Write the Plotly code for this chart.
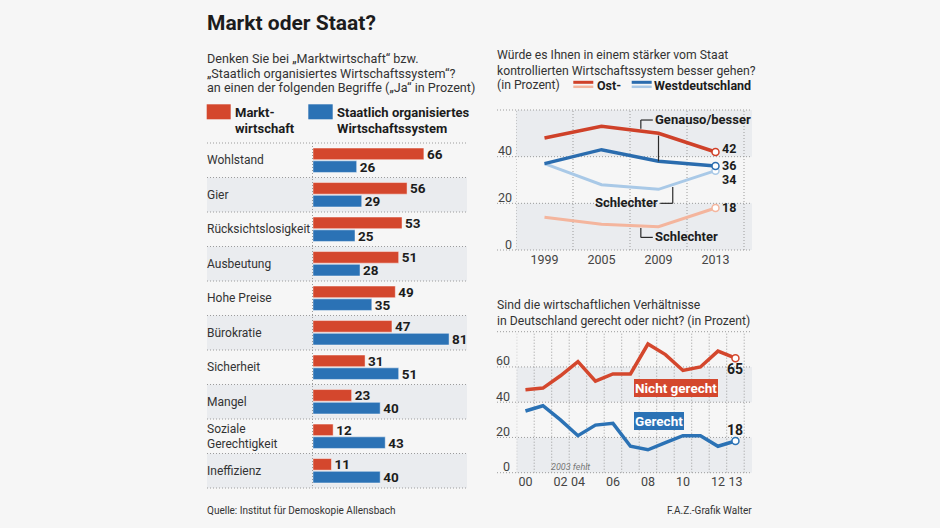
import plotly.graph_objects as go

# ---------------- data ----------------
begriffe = ["Wohlstand", "Gier", "Rücksichtslosigkeit", "Ausbeutung", "Hohe Preise",
            "Bürokratie", "Sicherheit", "Mangel", "Soziale Gerechtigkeit", "Ineffizienz"]
begriffe_text = ["Wohlstand", "Gier", "Rücksichtslosigkeit", "Ausbeutung", "Hohe Preise",
                 "Bürokratie", "Sicherheit", "Mangel", "Soziale|Gerechtigkeit", "Ineffizienz"]
markt = [66, 56, 53, 51, 49, 47, 31, 23, 12, 11]
staat = [26, 29, 25, 28, 35, 81, 51, 40, 43, 40]

jahre_a = ["1999", "2005", "2009", "2013"]
ost_besser = [48, 53, 50, 42]
ost_schlechter = [14, 11, 10, 18]
west_besser = [37, 43, 38, 36]
west_schlechter = [37, 28, 26, 34]
ticks_a = [0, 20, 40]

jahre_b = ["2000", "2001", "2002", "2004", "2005", "2006", "2007",
           "2008", "2009", "2010", "2011", "2012", "2013"]
jahre_b_ticks = ["00", "", "02", "04", "", "06", "", "08", "", "10", "", "12", "13"]
nicht_gerecht = [47, 48, 55, 63, 52, 56, 56, 73, 67, 58, 60, 69, 65]
gerecht = [35, 38, 30, 21, 27, 28, 15, 13, 17, 21, 21, 15, 18]
ticks_b = [0, 20, 40, 60]

# ---------------- style ----------------
W, H = 940, 528
FONT = "Roboto, Lato, Liberation Sans, sans-serif"
BG = "#f6f6f6"
BAND = "#eaecef"
RED = "#d4472d"
BLUE = "#2b72b5"
RED_L = "#f4b59d"
BLUE_L = "#a9c9e7"
RED_D = "#cf4129"
BLUE_D = "#2a6cae"
GRID = "#9c9c9c"
DOT = "1px,2px"
TXT = "#333333"
DARK = "#1c1c1c"
SUB = 12.6


def px(x):
    return x / W


def py(y):
    return 1 - y / H


shapes = []
annotations = []


def text(x, y, s, size=SUB, color=TXT, xanchor="left", bold=False, italic=False):
    if bold:
        s = "<b>" + s + "</b>"
    if italic:
        s = "<i>" + s + "</i>"
    annotations.append(dict(xref="paper", yref="paper", x=px(x), y=py(y), text=s,
                            showarrow=False, xanchor=xanchor, yanchor="middle",
                            borderpad=0, borderwidth=0,
                            font=dict(family=FONT, size=size, color=color)))


def pline(x0, y0, x1, y1, color=GRID, width=1, dash=DOT):
    shapes.append(dict(type="line", xref="paper", yref="paper", x0=px(x0), x1=px(x1),
                       y0=py(y0), y1=py(y1), layer="below",
                       line=dict(color=color, width=width, dash=dash)))


def prect(x0, y0, x1, y1, color):
    shapes.append(dict(type="rect", xref="paper", yref="paper", x0=px(x0), x1=px(x1),
                       y0=py(y1), y1=py(y0), layer="below", fillcolor=color,
                       line=dict(width=0)))


# ---------------- headings ----------------
text(206.5, 23, "Markt oder Staat?", size=21, color=DARK, bold=True)
text(206.5, 59, "Denken Sie bei „Marktwirtschaft“ bzw.")
text(206.5, 73.5, "„Staatlich organisiertes Wirtschaftssystem“?")
text(206.5, 88, "an einen der folgenden Begriffe („Ja“ in Prozent)")
prect(206.7, 104.3, 230.7, 119.3, RED)
prect(308.3, 104.3, 332.7, 119.3, BLUE)
text(235, 112.5, "Markt-", size=13, color=DARK, bold=True)
text(235, 128, "wirtschaft", size=13, color=DARK, bold=True)
text(336.5, 112.5, "Staatlich organisiertes", size=13, color=DARK, bold=True)
text(336.5, 128, "Wirtschaftssystem", size=13, color=DARK, bold=True)

# ---------------- bar chart ----------------
BX0, BX1, BY0, BY1, LX = 313, 467, 143, 488, 207
n = len(begriffe)
ROW = (BY1 - BY0) / n
for i in range(n):
    if i % 2 == 1:
        prect(LX, BY0 + i * ROW, BX1, BY0 + (i + 1) * ROW, BAND)
for i in range(n + 1):
    pline(LX, BY0 + i * ROW, BX1, BY0 + i * ROW)
pline(BX0 - 0.5, BY0, BX0 - 0.5, BY1)
for i, lab in enumerate(begriffe_text):
    yc = BY0 + (i + 0.5) * ROW
    parts = lab.split("|")
    if len(parts) == 1:
        text(LX, yc, lab, size=12)
    else:
        text(LX, yc - 7.5, parts[0], size=12)
        text(LX, yc + 7.5, parts[1], size=12)

fig = go.Figure()
bar_common = dict(orientation="h", xaxis="x", yaxis="y", textposition="outside",
                  cliponaxis=False, constraintext="none", texttemplate="<b>%{x}</b>",
                  textfont=dict(family=FONT, size=13.5, color=DARK), hoverinfo="skip")
fig.add_trace(go.Bar(y=begriffe, x=markt, name="Marktwirtschaft",
                     marker=dict(color=RED, line=dict(color="rgba(255,255,255,0.45)", width=1)),
                     **bar_common))
fig.add_trace(go.Bar(y=begriffe, x=staat, name="Staatlich organisiertes Wirtschaftssystem",
                     marker=dict(color=BLUE, line=dict(color="rgba(255,255,255,0.45)", width=1)),
                     **bar_common))

# ---------------- top right chart ----------------
TX0, TX1, TYB, TYT, TVMAX = 516, 752, 250, 110, 60


def tpix(v):
    return TYB - v / TVMAX * (TYB - TYT)


text(496.5, 55.5, "Würde es Ihnen in einem stärker vom Staat", size=12.2)
text(496.5, 71, "kontrollierten Wirtschaftssystem besser gehen?", size=12.2)
text(496.5, 85.5, "(in Prozent)", size=12.2)
pline(573.3, 82.3, 593.3, 82.3, color=RED_D, width=3, dash="solid")
pline(573.3, 86.8, 593.3, 86.8, color=RED_L, width=2.5, dash="solid")
text(596.5, 85, "Ost-", size=12.5, color=DARK, bold=True)
pline(631.7, 82.3, 651.7, 82.3, color=BLUE_D, width=3, dash="solid")
pline(631.7, 86.8, 651.7, 86.8, color=BLUE_L, width=2.5, dash="solid")
text(654, 85, "Westdeutschland", size=12.5, color=DARK, bold=True)

prect(TX0, tpix(20), TX1, tpix(0), BAND)
prect(TX0, tpix(60), TX1, tpix(40), BAND)
for v in [0, 20, 40, 60]:
    pline(497, tpix(v), TX1, tpix(v))
for v in ticks_a:
    text(512, tpix(v) - 6, str(v), size=12.5, color="#444444", xanchor="right")
for i in range(len(jahre_a) + 1):
    shapes.append(dict(type="line", xref="x2", yref="y2", x0=i - 0.5, x1=i - 0.5, y0=0, y1=TVMAX,
                       layer="below", line=dict(color=GRID, width=1, dash=DOT)))


def add_line(x, y, color, width, xa, ya):
    fig.add_trace(go.Scatter(x=x, y=y, mode="lines", xaxis=xa, yaxis=ya, hoverinfo="skip",
                             line=dict(color=color, width=width)))


def add_end(x, y, color, xa, ya):
    fig.add_trace(go.Scatter(x=[x[-1]], y=[y[-1]], mode="markers", xaxis=xa, yaxis=ya,
                             hoverinfo="skip", cliponaxis=False,
                             marker=dict(size=7, color="white", line=dict(color=color, width=1.5))))


add_line(jahre_a, ost_schlechter, RED_L, 3, "x2", "y2")
add_line(jahre_a, west_schlechter, BLUE_L, 3, "x2", "y2")
add_line(jahre_a, ost_besser, RED_D, 3.5, "x2", "y2")
add_line(jahre_a, west_besser, BLUE_D, 3.5, "x2", "y2")
add_end(jahre_a, ost_schlechter, RED_L, "x2", "y2")
add_end(jahre_a, west_schlechter, BLUE_L, "x2", "y2")
add_end(jahre_a, ost_besser, RED_D, "x2", "y2")
add_end(jahre_a, west_besser, BLUE_D, "x2", "y2")

last_a = len(jahre_a) - 1
for vals, shift in [(ost_besser, 4), (west_besser, 1), (west_schlechter, -9), (ost_schlechter, 1)]:
    annotations.append(dict(xref="x2", yref="y2", x=last_a, y=vals[-1], xshift=6, yshift=shift,
                            text="<b>%d</b>" % vals[-1], showarrow=False, xanchor="left",
                            yanchor="middle", borderpad=0, borderwidth=0,
                            font=dict(family=FONT, size=12.5, color=DARK)))


def seg(x0, y0, x1, y1, xa="x2", ya="y2"):
    shapes.append(dict(type="line", xref=xa, yref=ya, x0=x0, x1=x1, y0=y0, y1=y1,
                       layer="above", line=dict(color="#2b2b2b", width=1.2)))


def dlabel(x, y, s, xanchor="left", xa="x2", ya="y2"):
    annotations.append(dict(xref=xa, yref=ya, x=x, y=y, text="<b>" + s + "</b>", showarrow=False,
                            xanchor=xanchor, yanchor="middle", borderpad=0, borderwidth=0,
                            font=dict(family=FONT, size=13, color=DARK)))


# Genauso/besser bracket
seg(1.69, 55.7, 1.90, 55.7)
seg(1.69, 55.7, 1.69, 52.0)
seg(2, ost_besser[2] - 1, 2, west_besser[2])
dlabel(1.94, 55.9, "Genauso/besser")
# Schlechter (West)
seg(2.03, 20, 2.25, 20)
seg(2.25, 20, 2.25, 27)
dlabel(1.99, 20.2, "Schlechter", xanchor="right")
# Schlechter (Ost)
seg(1.69, 9.4, 1.69, 5.4)
seg(1.69, 5.4, 1.90, 5.4)
dlabel(1.94, 5.6, "Schlechter")

# ---------------- bottom right chart ----------------
UX0, UX1, UYB, UYT, UVMAX = 516.7, 752, 472.7, 331.7, 80


def upix(v):
    return UYB - v / UVMAX * (UYB - UYT)


text(496.5, 305, "Sind die wirtschaftlichen Verhältnisse", size=12.2)
text(496.5, 320.7, "in Deutschland gerecht oder nicht? (in Prozent)", size=12.2)

prect(UX0, upix(20), UX1, upix(0), BAND)
prect(UX0, upix(60), UX1, upix(40), BAND)
for v in [0, 20, 40, 60, 80]:
    pline(497, upix(v), UX1, upix(v))
for v in ticks_b:
    text(510, upix(v) - 6, str(v), size=12.5, color="#444444", xanchor="right")
for i in range(len(jahre_b) + 1):
    shapes.append(dict(type="line", xref="x3", yref="y3", x0=i - 0.5, x1=i - 0.5, y0=0, y1=UVMAX,
                       layer="below", line=dict(color=GRID, width=1, dash=DOT)))

add_line(jahre_b, nicht_gerecht, RED, 3.5, "x3", "y3")
add_line(jahre_b, gerecht, BLUE, 3.5, "x3", "y3")
add_end(jahre_b, nicht_gerecht, RED, "x3", "y3")
add_end(jahre_b, gerecht, BLUE, "x3", "y3")

last_b = len(jahre_b) - 1
annotations.append(dict(xref="x3", yref="y3", x=last_b, y=nicht_gerecht[-1], yshift=-11,
                        text="<b>%d</b>" % nicht_gerecht[-1], showarrow=False, xanchor="center",
                        yanchor="middle", font=dict(family=FONT, size=14, color=DARK)))
annotations.append(dict(xref="x3", yref="y3", x=last_b, y=gerecht[-1], yshift=11,
                        text="<b>%d</b>" % gerecht[-1], showarrow=False, xanchor="center",
                        yanchor="middle", font=dict(family=FONT, size=14, color=DARK)))
annotations.append(dict(xref="x3", yref="y3", x=6.19, y=48, text="<b>Nicht gerecht</b>",
                        showarrow=False, xanchor="left", yanchor="middle", bgcolor=RED,
                        borderpad=1, borderwidth=0, font=dict(family=FONT, size=13.5, color="white")))
annotations.append(dict(xref="x3", yref="y3", x=6.19, y=29.4, text="<b>Gerecht</b>",
                        showarrow=False, xanchor="left", yanchor="middle", bgcolor=BLUE,
                        borderpad=1, borderwidth=0, font=dict(family=FONT, size=13.5, color="white")))
annotations.append(dict(xref="x3", yref="y3", x=2.57, y=3.4, text="<i>2003 fehlt</i>",
                        showarrow=False, xanchor="center", yanchor="middle",
                        font=dict(family=FONT, size=9, color="#777777")))

# ---------------- footer ----------------
text(207, 510.5, "Quelle: Institut für Demoskopie Allensbach", size=10)
text(752, 510.5, "F.A.Z.-Grafik Walter", size=10, xanchor="right")

TICKFONT = dict(family=FONT, size=12.5, color="#444444")
fig.update_layout(
    width=W, height=H, margin=dict(l=0, r=0, t=0, b=0), autosize=False,
    paper_bgcolor=BG, plot_bgcolor="rgba(0,0,0,0)", showlegend=False,
    barmode="group", bargap=0.258, bargroupgap=0.094,
    xaxis=dict(domain=[px(BX0), px(BX1)], anchor="y", range=[0, (BX1 - BX0) / 1.68],
               visible=False, fixedrange=True),
    yaxis=dict(domain=[py(BY1), py(BY0)], anchor="x", type="category",
               categoryorder="array", categoryarray=begriffe,
               range=[n - 0.5, -0.5], visible=False, fixedrange=True),
    xaxis2=dict(domain=[px(TX0), px(TX1)], anchor="y2", type="category",
                categoryorder="array", categoryarray=jahre_a,
                range=[-0.5, -0.5 + (TX1 - TX0) / 57.0], showgrid=False, zeroline=False,
                showline=False, ticks="", tickangle=0, tickfont=TICKFONT, fixedrange=True),
    yaxis2=dict(domain=[py(TYB), py(TYT)], anchor="x2", range=[0, TVMAX],
                showticklabels=False, showgrid=False, zeroline=False, showline=False,
                fixedrange=True),
    xaxis3=dict(domain=[px(UX0), px(UX1)], anchor="y3", type="category",
                categoryorder="array", categoryarray=jahre_b,
                range=[-0.5, -0.5 + (UX1 - UX0) / 17.5], tickmode="array",
                tickvals=[i for i, t in enumerate(jahre_b_ticks) if t],
                ticktext=[t for t in jahre_b_ticks if t], tickangle=0,
                showgrid=False, zeroline=False, showline=False, ticks="",
                tickfont=TICKFONT, fixedrange=True),
    yaxis3=dict(domain=[py(UYB), py(UYT)], anchor="x3", range=[0, UVMAX],
                showticklabels=False, showgrid=False, zeroline=False, showline=False,
                fixedrange=True),
    shapes=shapes, annotations=annotations,
)

css = ("var d=document.documentElement,b=document.body;"
       "d.style.margin='0';d.style.padding='0';d.style.overflow='hidden';d.style.height='528px';"
       "b.style.margin='0';b.style.padding='0';b.style.overflow='hidden';b.style.height='528px';"
       "b.style.background='" + BG + "';")
fig.write_html("out.html", config={"displayModeBar": False, "responsive": False},
               post_script=css)
